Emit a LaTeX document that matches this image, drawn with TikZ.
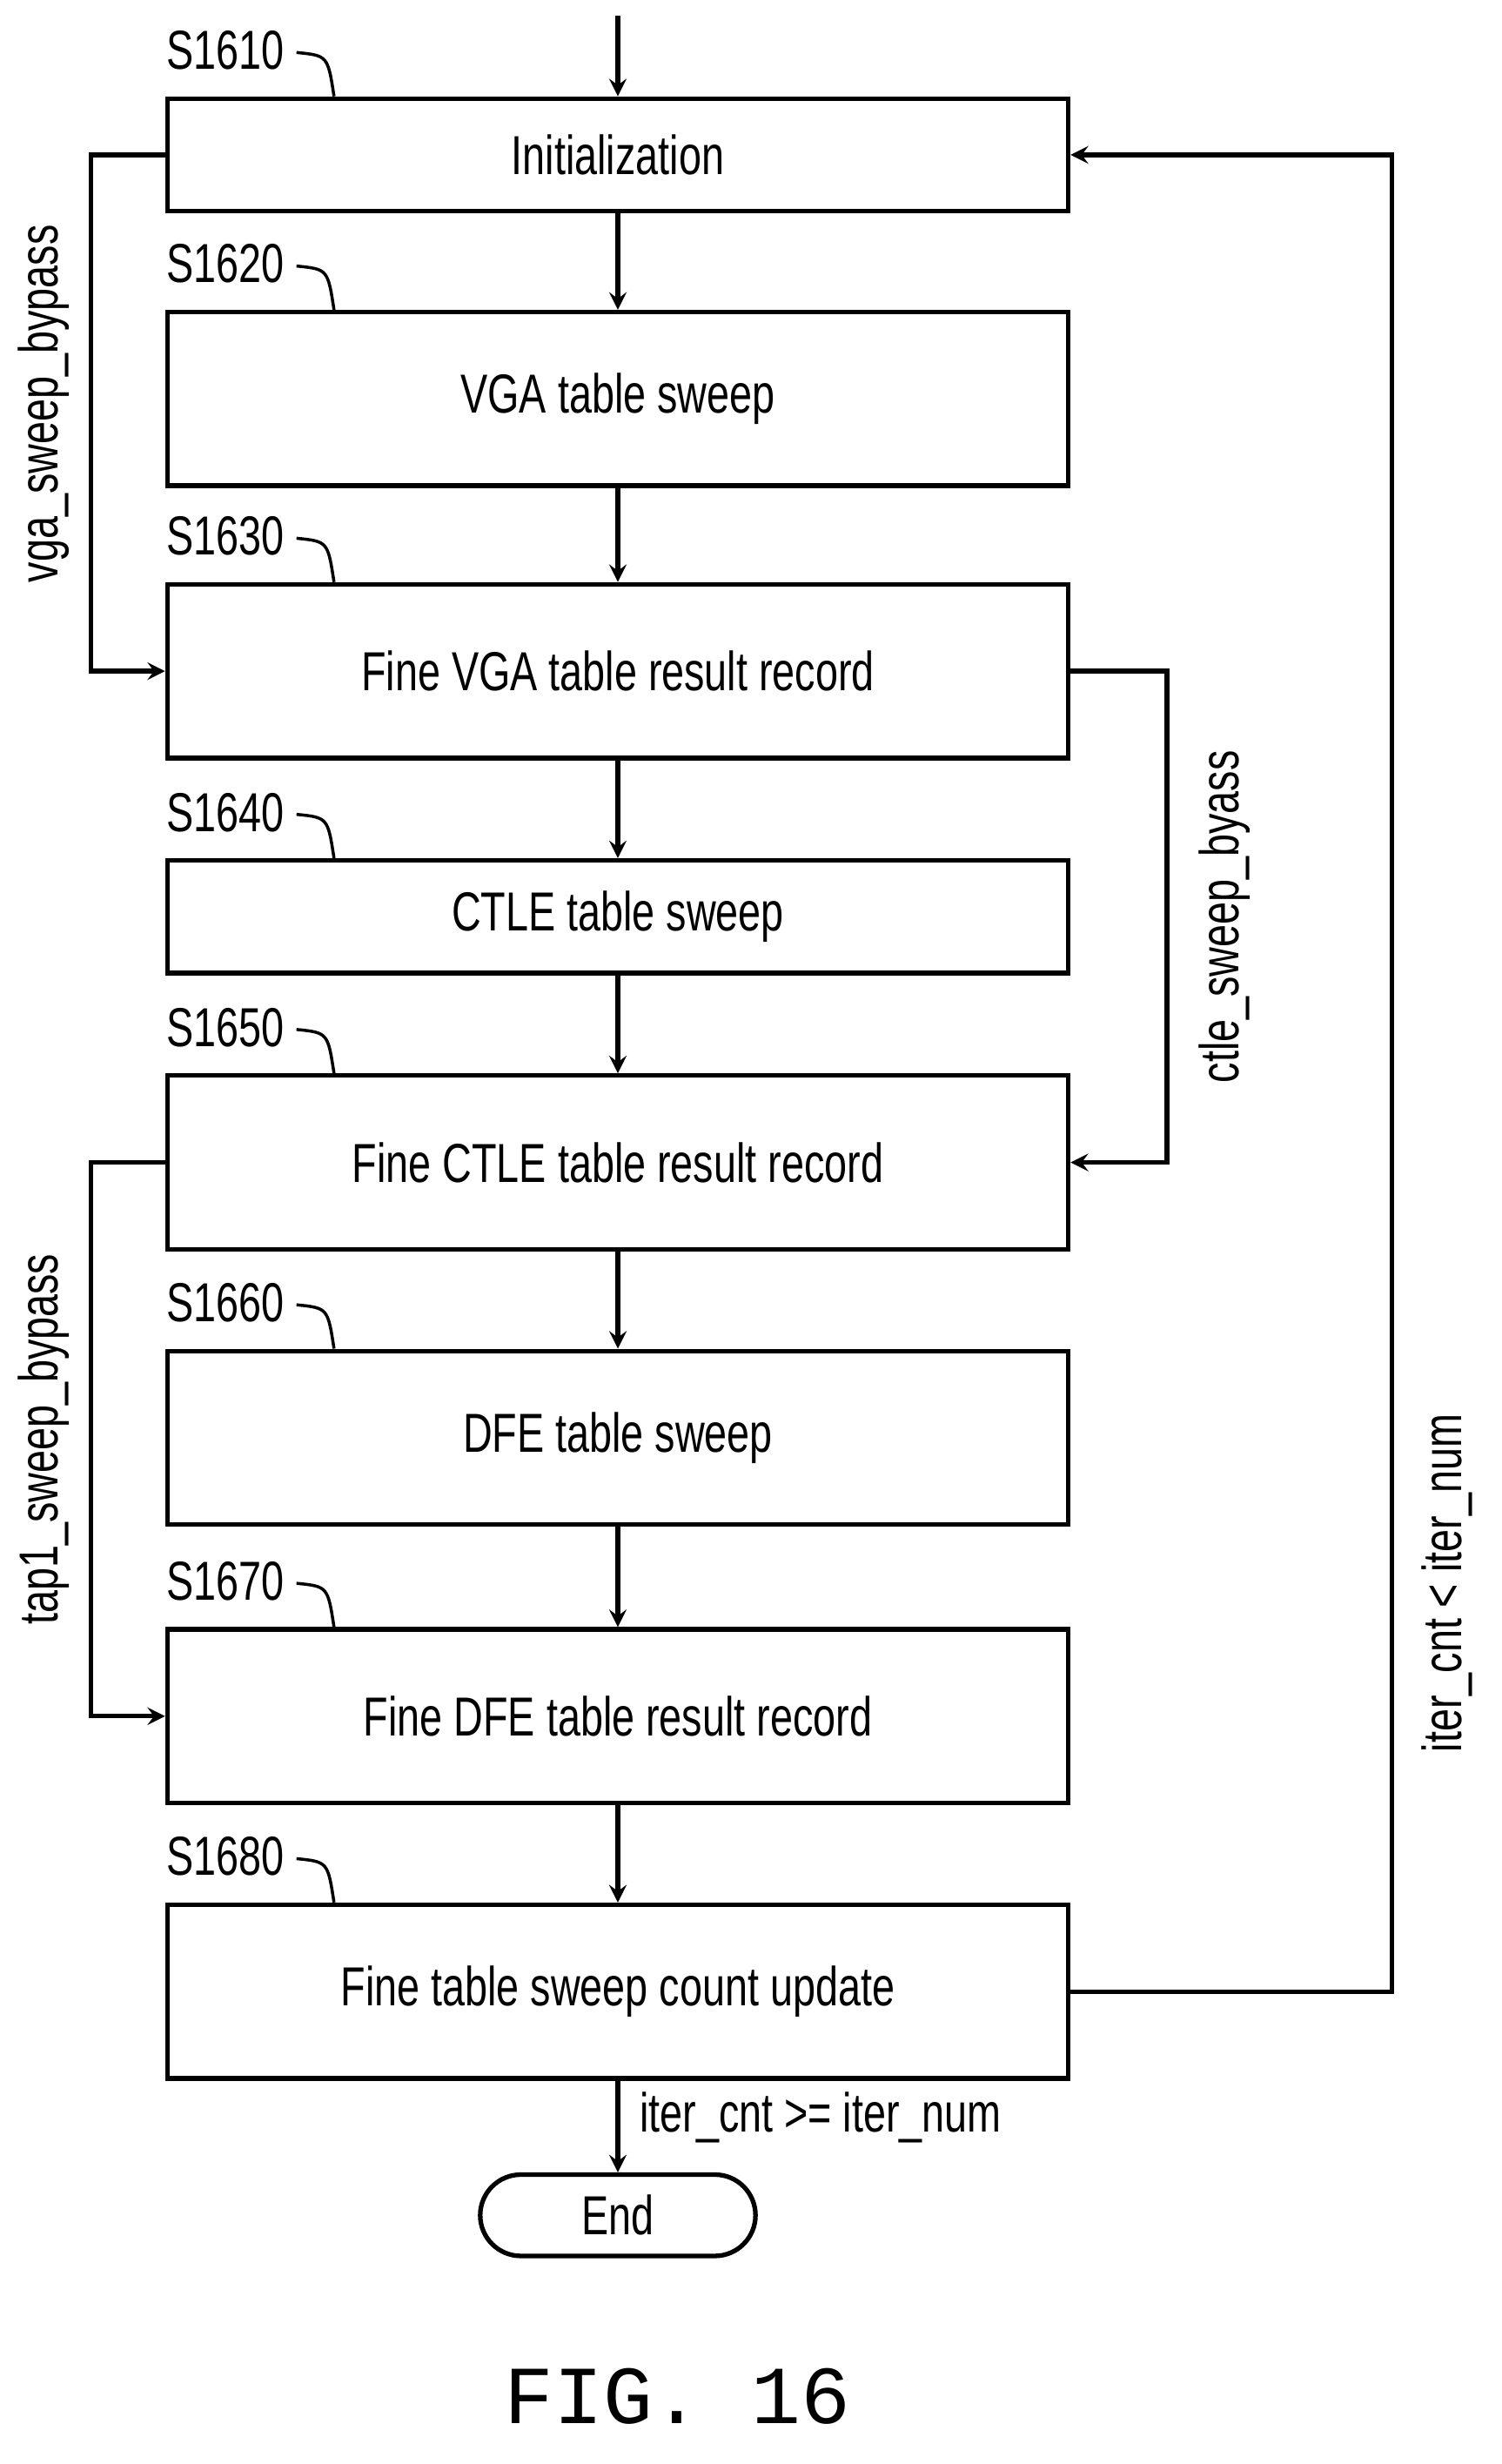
\documentclass[tikz,border=0pt]{standalone}
\usepackage{fontspec}
\setmainfont{Liberation Sans}[FakeStretch=0.74]
\newfontfamily\figfont{Liberation Mono}
\usetikzlibrary{positioning}
\tikzset{
  stepbox/.style={draw, line width=1.5pt, minimum width=576*0.018cm, inner sep=0pt},
  lbl/.style={font=\fontsize{18}{20}\selectfont},
  flow/.style={line width=1.5pt, ->, >=stealth},
}
\begin{document}
\begin{tikzpicture}[x=0.018cm,y=-0.018cm,font=\fontsize{18}{20}\selectfont]
	\useasboundingbox (0,0) rectangle (960,1575);
	% steps
	\node[stepbox, minimum height=72*0.018cm] (init) at (395,99){Initialization};
	\node[stepbox, minimum height=111*0.018cm] (vga) at (395,255){VGA table sweep};
	\node[stepbox, minimum height=111*0.018cm] (fvga) at (395,429){Fine VGA table result record};
	\node[stepbox, minimum height=72*0.018cm] (ctle) at (395,586){CTLE table sweep};
	\node[stepbox, minimum height=111*0.018cm] (fctle) at (395,743){Fine CTLE table result record};
	\node[stepbox, minimum height=111*0.018cm] (dfe) at (395,919){DFE table sweep};
	\node[stepbox, minimum height=111*0.018cm] (fdfe) at (395,1097){Fine DFE table result record};
	\node[stepbox, minimum height=111*0.018cm] (cnt) at (395,1273){Fine table sweep count update};
	\node[draw, line width=1.5pt, rounded corners=26*0.018cm, minimum width=176*0.018cm, minimum height=52*0.018cm] (end) at (395,1416){End};
	\coordinate (start) at (395,10);
	% step numbers
	\foreach \nm/\num in {init/1610,vga/1620,fvga/1630,ctle/1640,fctle/1650,dfe/1660,fdfe/1670,cnt/1680}{
		\node[lbl, anchor=south west] at ([xshift=-6*0.018cm, yshift=10*0.018cm]\nm.north west){S\num};
		\draw[line width=1pt] ([xshift=84*0.018cm, yshift=28*0.018cm]\nm.north west) .. controls ([xshift=104*0.018cm, yshift=26*0.018cm]\nm.north west) .. ([xshift=108*0.018cm]\nm.north west);
	}
	% main flow
	\draw[flow] (start) -- (init);
	\draw[flow] (init) -- (vga);
	\draw[flow] (vga) -- (fvga);
	\draw[flow] (fvga) -- (ctle);
	\draw[flow] (ctle) -- (fctle);
	\draw[flow] (fctle) -- (dfe);
	\draw[flow] (dfe) -- (fdfe);
	\draw[flow] (fdfe) -- (cnt);
	\draw[flow] (cnt) -- node[right, pos=0.4, xshift=6*0.018cm]{iter\_cnt >= iter\_num} (end);
	% bypasses
	\draw[flow] (init.west) -| (58,300) |- (fvga.west);
	\node[rotate=90] at (28,258){vga\_sweep\_bypass};
	\draw[flow] (fvga.east) -| (746,600) |- (fctle.east);
	\node[rotate=90] at (783,586){ctle\_sweep\_byass};
	\draw[flow] (fctle.west) -| (58,900) |- (fdfe.west);
	\node[rotate=90] at (28,920){tap1\_sweep\_bypass};
	\draw[flow] (cnt.east) -| (890,600) |- (init.east);
	\node[rotate=90] at (925,1012){iter\_cnt < iter\_num};
	% caption
	\node[font=\figfont\fontsize{27}{30}\selectfont] (cap) at (433,1532){FIG. 16};
\end{tikzpicture}
\end{document}
